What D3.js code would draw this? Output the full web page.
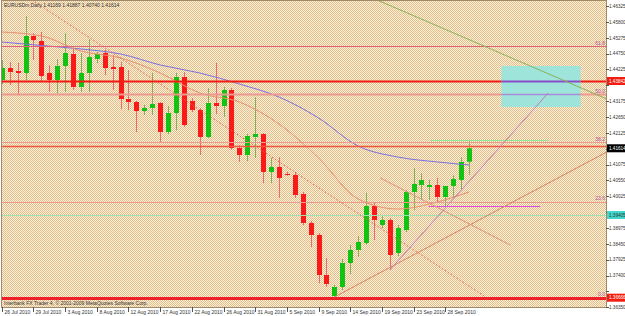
<!DOCTYPE html>
<html>
<head>
<meta charset="utf-8">
<title>EURUSDm,Daily</title>
<script src="https://cdn.jsdelivr.net/npm/d3@7/dist/d3.min.js"></script>
<style>
  body { margin: 0; background: #fff; }
  svg { display: block; }
  text { font-family: "Liberation Sans", Arial, sans-serif; }
</style>
</head>
<body>
<div id="chart"></div>
<script>
// daily bars, oldest first
const opens  = [1.43875,1.44272,1.44173,1.44107,1.45332,1.45166,1.44107,1.43875,1.44339,1.44736,
                1.43643,1.44107,1.44570,1.44769,1.44305,1.44305,1.43245,1.43146,1.42848,1.42948,
                1.43113,1.42153,1.42782,1.43974,1.43180,1.42882,1.41988,1.43113,1.43014,1.43544,
                1.41623,1.41391,1.41988,1.42087,1.40830,1.40995,1.40763,1.40730,1.40100,1.39140,
                1.38742,1.37418,1.36722,1.37020,1.37815,1.38246,1.38477,1.39703,1.39074,1.39239,
                1.38146,1.38908,1.40167,1.40398,1.40332,1.40398,1.40001,1.40365,1.40564,1.41169];
const highs  = [1.44537,1.44471,1.44438,1.45994,1.45431,1.45464,1.44372,1.44570,1.45431,1.44935,
                1.44769,1.45233,1.44802,1.44868,1.44703,1.44471,1.44206,1.43180,1.43047,1.44107,
                1.43146,1.43014,1.44107,1.44140,1.43279,1.42948,1.43610,1.44438,1.43643,1.43610,
                1.41723,1.42087,1.43312,1.42120,1.41292,1.41325,1.40830,1.40830,1.40167,1.39206,
                1.38809,1.37981,1.37087,1.37948,1.38411,1.38709,1.40133,1.39802,1.39405,1.39305,
                1.39074,1.40233,1.40961,1.40796,1.40564,1.40631,1.40365,1.40730,1.41325,1.41887];
const lows   = [1.43742,1.43709,1.43378,1.43875,1.44537,1.43809,1.43478,1.43444,1.43478,1.43544,
                1.43478,1.43478,1.44438,1.44041,1.43544,1.42915,1.42882,1.42153,1.42716,1.42716,
                1.41822,1.42087,1.42219,1.42319,1.42815,1.41391,1.41954,1.42749,1.42650,1.41557,
                1.41161,1.41193,1.41292,1.40465,1.40465,1.39968,1.40697,1.39968,1.39074,1.38345,
                1.37153,1.37020,1.36656,1.36921,1.37451,1.38014,1.38411,1.38577,1.38974,1.37584,
                1.38047,1.38842,1.39571,1.39902,1.39902,1.39802,1.39670,1.40001,1.40233,1.40740];
const closes = [1.44272,1.44140,1.44107,1.45332,1.45199,1.44008,1.43875,1.44339,1.44769,1.43643,
                1.44107,1.44637,1.44736,1.44272,1.44239,1.43245,1.43146,1.42848,1.42948,1.43080,
                1.42153,1.42782,1.43974,1.42385,1.42882,1.41988,1.43113,1.43014,1.43544,1.41623,
                1.41391,1.42021,1.42087,1.40830,1.40995,1.40631,1.40730,1.40067,1.39140,1.38742,
                1.37418,1.37120,1.37020,1.37815,1.38246,1.38511,1.39703,1.39239,1.39239,1.38080,
                1.38974,1.40167,1.40432,1.40564,1.40398,1.40001,1.40365,1.40598,1.41161,1.41614];

// moving averages read at a few bars
const maBars = [0, 5, 10, 15, 20, 25, 30, 35, 40, 45, 50, 55, 59];
const maSlow = [1.45133,1.45017,1.44902,1.44736,1.44372,1.44107,1.43743,1.43312,1.42617,1.41689,1.41325,1.41161,1.41061];
const maFast = [1.45464,1.45332,1.44835,1.44604,1.44107,1.43444,1.43146,1.42418,1.41292,1.39934,1.39603,1.39835,1.40167];

const dateBars   = [0, 4, 8, 12, 16, 20, 24, 28, 32, 36, 40, 44, 48, 52, 56];
const dateLabels = ["26 Jul 2010","29 Jul 2010","3 Aug 2010","8 Aug 2010","12 Aug 2010","17 Aug 2010",
                    "22 Aug 2010","26 Aug 2010","31 Aug 2010","5 Sep 2010","9 Sep 2010","14 Sep 2010",
                    "19 Sep 2010","23 Sep 2010","28 Sep 2010"];
const priceTicks = [1.46325,1.45800,1.45275,1.44750,1.44225,1.43700,1.43175,1.42650,1.42125,1.41600,
                    1.41075,1.40550,1.40025,1.39500,1.38975,1.38450,1.37925,1.37400,1.36875,1.36350];

// fibonacci retracement
const fibLow = 1.36666, fibHigh = 1.50136;
const fibLevels = [0, 23.6, 38.2, 50.0, 61.8];

// horizontal lines
const redLevel = 1.43842, bidLevel = 1.41614, redLevel2 = 1.41690, greenLevel = 1.39405;
// short horizontal segments [bar from, bar to, price]
const greenSeg = [54.1, 69.0, 1.41888];
const magentaSeg = [53.9, 68.0, 1.39703];

// trend lines [[bar, price], [bar, price]]
const greenTrend  = [[47.4, 1.46524], [76.4, 1.43246]];
const purpleTrend = [[49.0, 1.37584], [69.0, 1.43444]];
const riseTrend   = [[42.0, 1.36689], [76.4, 1.41491]];
const dropTrend   = [[47.8, 1.40630], [64.2, 1.38411]];
const dotTrend    = [[3.8, 1.46524], [61.1, 1.36689]];

// target box [bar from, bar to, price top, price bottom]
const box = [63.1, 73.1, 1.44339, 1.42981];

const width = 625, height = 316;
const plot = { left: 2, right: 606, top: 1, bottom: 307 };

const svg = d3.select("#chart").append("svg")
    .attr("width", width)
    .attr("height", height);

const defs = svg.append("defs");
const pat = defs.append("pattern")
    .attr("id", "dither")
    .attr("width", 2).attr("height", 2)
    .attr("patternUnits", "userSpaceOnUse");
pat.append("rect").attr("width", 2).attr("height", 2).attr("fill", "#fbf1e0");
pat.append("rect").attr("width", 1).attr("height", 1).attr("fill", "#e4bd85");
pat.append("rect").attr("x", 1).attr("y", 1).attr("width", 1).attr("height", 1).attr("fill", "#e4bd85");

defs.append("clipPath").attr("id", "plotClip")
    .append("rect")
    .attr("x", plot.left).attr("y", plot.top)
    .attr("width", plot.right - plot.left).attr("height", plot.bottom - plot.top);

const x = d3.scaleLinear().domain([0, 59]).range([1.8, 469]);
const y = d3.scaleLinear().domain([1.36358, 1.46491]).range([307, 1]);

svg.append("rect")
    .attr("x", plot.left).attr("y", plot.top)
    .attr("width", plot.right - plot.left).attr("height", plot.bottom - plot.top)
    .attr("fill", "url(#dither)");

const g = svg.append("g").attr("clip-path", "url(#plotClip)");

// candles
const bars = d3.range(opens.length);
const up = i => closes[i] >= opens[i];
const cx = i => Math.round(x(i));

g.selectAll(".wick").data(bars).enter().append("line")
    .attr("class", "wick")
    .attr("x1", i => cx(i) + 0.5).attr("x2", i => cx(i) + 0.5)
    .attr("y1", i => y(highs[i])).attr("y2", i => y(lows[i]))
    .attr("stroke", i => up(i) ? "#7fb05a" : "#ee6a6a")
    .attr("stroke-width", 1);

g.selectAll(".body").data(bars).enter().append("rect")
    .attr("class", "body")
    .attr("x", i => cx(i) - 2)
    .attr("width", 5)
    .attr("y", i => y(Math.max(opens[i], closes[i])))
    .attr("height", i => Math.max(1, Math.abs(y(opens[i]) - y(closes[i]))))
    .attr("fill", i => up(i) ? "#12c412" : "#fb1a1a");

// moving averages
const maLine = vals => d3.line()
    .x((d, k) => x(maBars[k]))
    .y(d => y(d))
    .curve(d3.curveMonotoneX)(vals);

g.append("path").attr("d", maLine(maSlow))
    .attr("fill", "none").attr("stroke", "#7a6fe0").attr("stroke-width", 1);
g.append("path").attr("d", maLine(maFast))
    .attr("fill", "none").attr("stroke", "#e8906e").attr("stroke-width", 1);

// horizontal levels
function hline(price, color, w, dash) {
    g.append("line")
        .attr("x1", plot.left).attr("x2", plot.right)
        .attr("y1", Math.round(y(price)) + 0.5).attr("y2", Math.round(y(price)) + 0.5)
        .attr("stroke", color).attr("stroke-width", w)
        .attr("stroke-dasharray", dash || null);
}

fibLevels.forEach(lvl => {
    const p = fibLow + (fibHigh - fibLow) * lvl / 100;
    hline(p, lvl == 61.8 ? "#e2607a" : "#eb9a92", lvl == 50 ? 2 : 1);
    g.append("text")
        .attr("x", 605).attr("y", y(p) - 1.5)
        .attr("text-anchor", "end")
        .attr("font-size", 5)
        .attr("fill", "#b0509a")
        .text(lvl.toFixed(1));
});

hline(redLevel, "#f21c10", 2);
hline(redLevel2, "#f2553e", 1.5);
hline(greenLevel, "#9fe3b2", 1);
hline(fibLow, "#f0202a", 3);

function seg(s, color) {
    g.append("line")
        .attr("x1", x(s[0])).attr("x2", x(s[1]))
        .attr("y1", Math.round(y(s[2])) + 0.5).attr("y2", Math.round(y(s[2])) + 0.5)
        .attr("stroke", color).attr("stroke-width", 1.2);
}
seg(greenSeg, "#8ee88e");
seg(magentaSeg, "#e048e0");

// target box, the levels behind it show through purple
g.append("rect")
    .attr("x", x(box[0])).attr("y", y(box[2]))
    .attr("width", x(box[1]) - x(box[0]))
    .attr("height", y(box[3]) - y(box[2]))
    .attr("fill", "#9ee4da");
[redLevel, fibLow + (fibHigh - fibLow) * 0.5].forEach((p, k) => {
    g.append("line")
        .attr("x1", x(box[0])).attr("x2", x(box[1]))
        .attr("y1", Math.round(y(p)) + 0.5).attr("y2", Math.round(y(p)) + 0.5)
        .attr("stroke", k == 0 ? "#8a4cc8" : "#a88ad8").attr("stroke-width", k == 0 ? 2 : 1.5);
});

// trend lines
function trend(t, color, dash) {
    g.append("line")
        .attr("x1", x(t[0][0])).attr("y1", y(t[0][1]))
        .attr("x2", x(t[1][0])).attr("y2", y(t[1][1]))
        .attr("stroke", color).attr("stroke-width", 1)
        .attr("stroke-dasharray", dash || null);
}
trend(greenTrend, "#86b25a");
trend(riseTrend, "#d88462");
trend(dropTrend, "#e09278");
trend(dotTrend, "#e8604e", "1.5,2");
trend(purpleTrend, "#c07ab8");

// texts
svg.append("text")
    .attr("x", 4).attr("y", 7)
    .attr("font-size", 5).attr("fill", "#333")
    .text("EURUSDm,Daily  1.41169 1.41887 1.40740 1.41614");
svg.append("text")
    .attr("x", 4).attr("y", 305)
    .attr("font-size", 5).attr("fill", "#333")
    .text("Interbank FX Trader 4, \u00a9 2001-2009 MetaQuotes Software Corp.");

// frame
svg.append("rect")
    .attr("x", plot.left - 0.5).attr("y", plot.top - 0.5)
    .attr("width", plot.right - plot.left + 1).attr("height", plot.bottom - plot.top + 1)
    .attr("fill", "none").attr("stroke", "#a08a6a").attr("stroke-width", 1);

// price axis
const tags = [[redLevel, "#f21c10", "#fff"], [bidLevel, "#000", "#fff"],
              [greenLevel, "#3fd6cc", "#333"], [fibLow, "#f21c10", "#fff"]];
const axisG = svg.append("g");
priceTicks.forEach(p => {
    axisG.append("line")
        .attr("x1", plot.right).attr("x2", plot.right + 3)
        .attr("y1", Math.round(y(p)) + 0.5).attr("y2", Math.round(y(p)) + 0.5)
        .attr("stroke", "#555");
    // labels hidden under a price tag are not drawn
    if (tags.some(t => Math.abs(y(t[0]) - y(p)) < 7)) return;
    axisG.append("text")
        .attr("x", 609).attr("y", y(p) + 1.8)
        .attr("font-size", 4.6).attr("fill", "#333")
        .text(p.toFixed(5));
});

tags.forEach(t => {
    const yy = y(t[0]);
    axisG.append("rect")
        .attr("x", plot.right + 1).attr("y", yy - 4)
        .attr("width", width - plot.right - 1).attr("height", 8)
        .attr("fill", t[1]);
    axisG.append("text")
        .attr("x", 609).attr("y", yy + 1.8)
        .attr("font-size", 4.6).attr("fill", t[2])
        .text(t[0].toFixed(5));
});

// date axis
dateBars.forEach((b, k) => {
    const xx = Math.round(x(b)) + 0.5;
    svg.append("line")
        .attr("x1", xx).attr("x2", xx)
        .attr("y1", plot.bottom).attr("y2", plot.bottom + 5)
        .attr("stroke", "#555");
    svg.append("text")
        .attr("x", xx + 2).attr("y", 314)
        .attr("font-size", 5).attr("fill", "#333")
        .text(dateLabels[k]);
});
</script>
</body>
</html>
